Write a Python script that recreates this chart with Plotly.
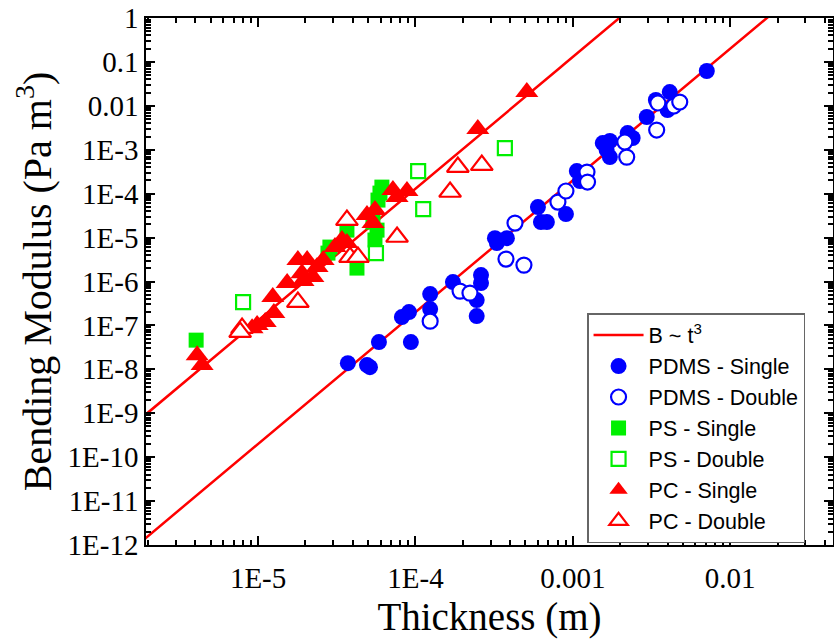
import numpy as np
import plotly.graph_objects as go

# ---------------- data ----------------
pdms_single_t = [3.72e-5, 4.92e-5, 5.14e-5, 5.86e-5, 9.35e-5, 8.2e-5, 9.1e-5, 1.24e-4, 1.24e-4,
                 1.73e-4, 2.61e-4, 2.61e-4, 2.45e-4, 2.45e-4, 3.2e-4, 3.29e-4, 3.81e-4,
                 6.0e-4, 6.27e-4, 6.84e-4, 9.04e-4, 1.06e-3, 1.11e-3, 1.55e-3, 1.72e-3,
                 1.64e-3, 1.72e-3, 2.23e-3, 2.4e-3, 2.95e-3, 3.37e-3, 4.13e-3, 4.0e-3, 7.1e-3]
pdms_single_B = [1.38e-8, 1.25e-8, 1.12e-8, 4.17e-8, 4.17e-8, 1.55e-7, 2.01e-7, 5.16e-7, 2.35e-7,
                 9.7e-7, 1.4e-6, 9.2e-7, 3.77e-7, 1.63e-7, 9.7e-6, 7.5e-6, 9.7e-6,
                 4.95e-5, 2.25e-5, 2.25e-5, 3.43e-5, 3.27e-4, 1.94e-4, 1.42e-3, 1.58e-3,
                 9.85e-4, 6.8e-4, 2.4e-3, 1.85e-3, 5.56e-3, 1.36e-2, 2.06e-2, 8.0e-3, 6.2e-2]

pdms_double_t = [1.24e-4, 1.92e-4, 2.22e-4, 4.29e-4, 3.76e-4, 4.89e-4, 8.04e-4, 9.04e-4,
                 1.23e-3, 1.24e-3, 2.14e-3, 2.2e-3, 3.41e-3, 3.47e-3, 4.38e-3, 4.78e-3]
pdms_double_B = [1.25e-7, 6.04e-7, 5.44e-7, 2.14e-5, 3.24e-6, 2.36e-6, 6.44e-5, 1.15e-4,
                 3.1e-4, 1.84e-4, 1.5e-3, 6.8e-4, 2.81e-3, 1.16e-2, 9.9e-3, 1.22e-2]

ps_single_t = [4.04e-6, 6.12e-5, 5.78e-5, 5.7e-5, 5.53e-5, 4.25e-5, 2.86e-5, 3.67e-5, 2.78e-5,
               5.95e-5, 5.37e-5]
ps_single_B = [4.62e-8, 1.41e-4, 7.15e-5, 1.48e-5, 8.8e-6, 2.02e-6, 6.08e-6, 1.48e-5, 4.43e-6,
               1.03e-4, 2.25e-5]

ps_double_t = [8.03e-6, 5.61e-5, 1.04e-4, 1.12e-4, 3.7e-4]
ps_double_B = [3.4e-7, 4.43e-6, 3.27e-4, 4.46e-5, 1.09e-3]

pc_single_t = [4.1e-6, 4.41e-6, 9.16e-6, 9.86e-6, 1.11e-5, 1.26e-5, 1.24e-5, 1.53e-5, 1.79e-5,
               1.9e-5, 2.05e-5, 2.23e-5, 2.37e-5, 1.93e-5, 2.59e-5, 3.08e-5, 3.41e-5, 3.67e-5,
               4.92e-5, 5.53e-5, 5.37e-5, 7.19e-5, 7.64e-5, 8.83e-5, 2.49e-4, 5.1e-4]
pc_single_B = [2.1e-8, 1.25e-8, 8.67e-8, 1.02e-7, 1.19e-7, 1.91e-7, 4.41e-7, 9.2e-7, 3.07e-6,
               1.55e-6, 3.07e-6, 1.26e-6, 2.13e-6, 1.02e-6, 3.07e-6, 6.08e-6, 8.8e-6, 7.5e-6,
               3.26e-5, 4.23e-5, 2.14e-5, 1.21e-4, 8.37e-5, 1.15e-4, 2.96e-3, 2.06e-2]

pc_double_t = [7.91e-6, 7.69e-6, 1.79e-5, 3.67e-5, 3.84e-5, 4.31e-5, 7.64e-5, 1.66e-4, 1.86e-4, 2.64e-4]
pc_double_B = [8.67e-8, 7.03e-8, 3.4e-7, 2.5e-5, 3.6e-6, 3.6e-6, 1.03e-5, 1.09e-4, 4.04e-4, 4.48e-4]

# B ~ t^3 guide lines: B = C * t^3
fit_coeffs = [2.0e5, 1.3e8]
fit_t_range = [1.9e-6, 0.05]

x_tick_vals = [1e-5, 1e-4, 1e-3, 1e-2]
x_tick_text = ["1E-5", "1E-4", "0.001", "0.01"]
y_tick_vals = [10.0 ** (-k) for k in range(0, 13)]
y_tick_text = ["1", "0.1", "0.01", "1E-3", "1E-4", "1E-5", "1E-6", "1E-7", "1E-8",
               "1E-9", "1E-10", "1E-11", "1E-12"]

# ---------------- figure ----------------
RED = "#FF0000"
BLUE = "#0000FF"
GREEN = "#00F000"

fig = go.Figure()

t_line = np.logspace(np.log10(fit_t_range[0]), np.log10(fit_t_range[1]), 200)
for i, c in enumerate(fit_coeffs):
    fig.add_trace(go.Scatter(
        x=t_line, y=c * t_line ** 3, mode="lines",
        line=dict(color=RED, width=2.5),
        name="B ~ t<sup>3</sup>", showlegend=(i == 0), legendrank=1))

def add_markers(tx, by, name, symbol, color, size, filled, rank):
    fig.add_trace(go.Scatter(
        x=tx, y=by, mode="markers", name=name, legendrank=rank,
        marker=dict(symbol=symbol, size=size,
                    color=color if filled else "white",
                    line=dict(color=color, width=0 if filled else 2.2))))

add_markers(pdms_single_t, pdms_single_B, "PDMS - Single", "circle", BLUE, 16, True, 2)
add_markers(pdms_double_t, pdms_double_B, "PDMS - Double", "circle", BLUE, 15, False, 3)
add_markers(ps_single_t, ps_single_B, "PS - Single", "square", GREEN, 15, True, 4)
add_markers(ps_double_t, ps_double_B, "PS - Double", "square", GREEN, 14, False, 5)
add_markers(pc_single_t, pc_single_B, "PC - Single", "triangle-up", RED, 20, True, 6)
add_markers(pc_double_t, pc_double_B, "PC - Double", "triangle-up", RED, 19, False, 7)

x_minor = [m * 10.0 ** e for e in range(-6, -1) for m in range(2, 10)]
y_minor = [m * 10.0 ** e for e in range(-12, 0) for m in range(2, 10)]

serif = "Liberation Serif, Times New Roman, serif"

fig.update_xaxes(
    type="log", range=[np.log10(1.94e-6), np.log10(0.045)],
    tickvals=x_tick_vals, ticktext=x_tick_text,
    ticks="inside", ticklen=9, tickwidth=1.5, tickcolor="black",
    minor=dict(tickvals=x_minor, ticks="inside", ticklen=5, tickcolor="black", showgrid=False),
    showline=True, linecolor="black", linewidth=1.5, mirror="ticks",
    showgrid=False, zeroline=False, ticklabelstandoff=6,
    tickfont=dict(family=serif, size=29, color="black"),
    title=dict(text="Thickness (m)", font=dict(family=serif, size=39, color="black"), standoff=10),
)
fig.update_yaxes(
    type="log", range=[-12, 0],
    tickvals=y_tick_vals, ticktext=y_tick_text,
    ticks="inside", ticklen=9, tickwidth=1.5, tickcolor="black",
    minor=dict(tickvals=y_minor, ticks="inside", ticklen=5, tickcolor="black", showgrid=False),
    showline=True, linecolor="black", linewidth=1.5, mirror="ticks",
    showgrid=False, zeroline=False,
    tickfont=dict(family=serif, size=29, color="black"),
    title=dict(text="Bending Modulus (Pa m<sup>3</sup>)", font=dict(family=serif, size=40, color="black"), standoff=4),
)

fig.update_layout(
    width=834, height=643,
    margin=dict(l=146, r=1, t=18, b=98, autoexpand=False),
    paper_bgcolor="white", plot_bgcolor="white",
    showlegend=True,
    legend=dict(
        x=0.642, y=0.44, xanchor="left", yanchor="top",
        bgcolor="white", bordercolor="#666666", borderwidth=1.5,
        font=dict(family="Liberation Sans, Arial, sans-serif", size=21.5, color="black"),
        tracegroupgap=0, itemwidth=50,
    ),
)

fig.write_html("out.html")
